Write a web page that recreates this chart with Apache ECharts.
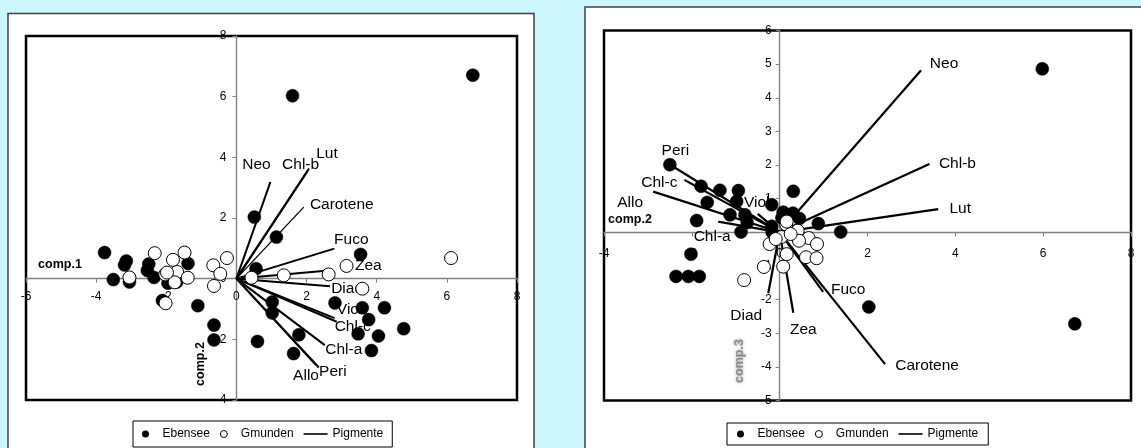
<!DOCTYPE html>
<html>
<head>
<meta charset="utf-8">
<script src="https://cdn.jsdelivr.net/npm/echarts@6/dist/echarts.min.js"></script>
<style>
  html, body { margin: 0; padding: 0; background: #cdf6fd; }
  #chart { width: 1141px; height: 448px; }
</style>
</head>
<body>
<div id="chart"></div>
<script>
// PCA biplots: sample scores (Ebensee / Gmunden) and pigment loadings

const pigments = ['Neo', 'Chl-b', 'Lut', 'Carotene', 'Fuco', 'Zea', 'Diad', 'Viol', 'Chl-c', 'Chl-a', 'Peri', 'Allo'];

// Panel 1: comp.1 vs comp.2
const leftEbensee = [
  [6.74, 6.71], [1.60, 6.03], [0.51, 2.03], [1.14, 1.37], [0.56, 0.33], [3.54, 0.80],
  [1.02, -0.77], [1.02, -1.13], [2.81, -0.80], [3.59, -0.96], [4.22, -0.96], [3.77, -1.35],
  [4.77, -1.65], [3.47, -1.82], [4.05, -1.89], [3.85, -2.37], [1.78, -1.85], [1.63, -2.47],
  [0.60, -2.07], [-0.64, -1.53], [-0.64, -2.02], [-1.10, -0.89], [-2.11, -0.72], [-3.76, 0.86],
  [-3.51, -0.03], [-3.19, 0.45], [-3.14, 0.58], [-3.05, -0.11], [-2.50, 0.48], [-2.54, 0.27],
  [-2.35, 0.04], [-1.38, 0.50], [-1.70, -0.11], [-1.95, -0.15]
];
const leftGmunden = [
  [-2.33, 0.84], [-1.81, 0.62], [-1.48, 0.86], [-2.03, 0.14], [-1.69, 0.22], [-1.39, 0.03],
  [-1.76, -0.12], [-3.05, 0.04], [-0.66, 0.44], [-0.46, 0.16], [-0.64, -0.24], [-0.27, 0.68],
  [-2.02, -0.81], [0.43, 0.03], [1.35, 0.11], [2.63, 0.14], [3.14, 0.42], [3.59, -0.33],
  [6.12, 0.68], [-1.98, 0.20]
];
const leftLoadings = [
  [0.97, 3.19], [2.03, 3.55], [2.07, 3.63], [1.92, 2.36], [2.79, 0.99], [2.62, 0.27],
  [2.67, -0.25], [2.80, -1.30], [2.86, -1.42], [2.52, -2.19], [2.35, -2.93], [2.27, -2.85]
];

// Panel 2: comp.2 vs comp.3
const rightEbensee = [
  [5.98, 4.86], [6.72, -2.72], [2.03, -2.22], [1.39, 0.01], [0.88, 0.26], [0.31, 1.22],
  [-2.50, 2.01], [-1.79, 1.37], [-1.36, 1.25], [-0.94, 1.24], [-1.65, 0.89], [-0.98, 0.92],
  [-1.13, 0.52], [-0.79, 0.52], [-0.74, 0.29], [-1.89, 0.35], [-0.88, 0.01], [-0.18, 0.82],
  [-2.02, -0.65], [-2.36, -1.31], [-2.08, -1.31], [-1.83, -1.31], [0.30, 0.57], [0.45, 0.41],
  [-0.18, 0.18], [0.05, 0.43], [-0.16, -0.02], [0.08, 0.60]
];
const rightGmunden = [
  [0.15, 0.23], [0.04, -0.14], [-0.23, -0.35], [0.16, -0.65], [0.08, -1.02], [-0.36, -1.03],
  [-0.81, -1.42], [0.41, 0.05], [0.66, -0.17], [0.44, -0.25], [0.85, -0.35], [0.60, -0.74],
  [0.84, -0.77], [-0.09, -0.20], [0.25, -0.05], [0.16, 0.32]
];
const rightLoadings = [
  [3.22, 4.82], [3.41, 2.03], [3.61, 0.69], [2.40, -3.92], [0.99, -1.77], [0.31, -2.39],
  [-0.26, -1.81], [-0.50, 0.55], [-2.17, 1.56], [-1.40, 0.32], [-2.42, 1.95], [-2.88, 1.21]
];

// label placement relative to each vector tip (pixels)
const leftLabelShift = [
  [-14, -17], [-7, -6], [18, -15], [38, -2], [17, -9], [40, -5],
  [17, 2], [15, -8], [16, 5], [19, 5], [14, 4], [-10, 11]
];
const rightLabelShift = [
  [23, -6], [28, 0], [22, 0], [42, 2], [25, -2], [10, 17],
  [-22, 23], [-1, -11], [-25, 3], [-6, 15], [2, -16], [-23, 11]
];
const leftLineWidth = [2, 2, 2, 1.3, 2, 2, 2, 2, 2, 2, 2, 2];

const FONT = '"Liberation Sans", Arial, sans-serif';

// grid boxes (pixels)
const gridL = { left: 26, top: 36, width: 491, height: 364 };
const gridR = { left: 604, top: 30.5, width: 527, height: 370 };

function vectorSeries(gridIdx, loadings, shifts, widths) {
  return {
    type: 'custom',
    name: 'Pigmente',
    xAxisIndex: gridIdx,
    yAxisIndex: gridIdx,
    z: 2,
    data: loadings,
    encode: { x: 0, y: 1 },
    renderItem: function (params, api) {
      const i = params.dataIndex;
      const o = api.coord([0, 0]);
      const p = api.coord([api.value(0), api.value(1)]);
      const s = shifts[i];
      return {
        type: 'group',
        children: [
          {
            type: 'line',
            shape: { x1: o[0], y1: o[1], x2: p[0], y2: p[1] },
            style: { stroke: '#000', lineWidth: widths ? widths[i] : 2.2 }
          },
          {
            type: 'text',
            style: {
              text: pigments[i], x: p[0] + s[0], y: p[1] + s[1],
              fill: '#000', fontSize: 15.5, fontFamily: FONT,
              align: 'center', verticalAlign: 'middle'
            }
          }
        ]
      };
    }
  };
}

function scoreSeries(gridIdx, name, data, filled) {
  return {
    type: 'scatter',
    name: name,
    xAxisIndex: gridIdx,
    yAxisIndex: gridIdx,
    z: 3,
    symbol: 'circle',
    symbolSize: 13,
    data: data,
    itemStyle: filled
      ? { color: '#000', borderColor: '#000', borderWidth: 0.5, opacity: 1 }
      : { color: '#fff', borderColor: '#000', borderWidth: 1, opacity: 1 }
  };
}

// axis drawn through the other axis' zero, shifted in from the grid edge
function crossAxis(gridIdx, min, max, interval, margin, otherMin, otherMax, span) {
  const shift = -((0 - otherMin) / (otherMax - otherMin)) * span;
  return {
    type: 'value', gridIndex: gridIdx, min: min, max: max, interval: interval,
    offset: shift,
    axisLine: { show: true, onZero: false, lineStyle: { color: '#808080', width: 1.4 } },
    axisTick: { show: true, length: 4, lineStyle: { color: '#808080', width: 1 } },
    axisLabel: { color: '#000', fontSize: 12, fontFamily: FONT, margin: margin },
    splitLine: { show: false }
  };
}

function legendFor(left, top, pad) {
  return {
    left: left, top: top,
    orient: 'horizontal',
    backgroundColor: '#fff',
    borderColor: '#000', borderWidth: 1,
    padding: pad,
    itemWidth: 24, itemHeight: 7, itemGap: 10,
    symbolKeepAspect: true,
    textStyle: { color: '#000', fontSize: 12, fontFamily: FONT },
    data: [
      { name: 'Ebensee', icon: 'circle', itemStyle: { color: '#000', borderWidth: 0 } },
      { name: 'Gmunden', icon: 'circle', itemStyle: { color: '#fff', borderColor: '#000', borderWidth: 1 } },
      { name: 'Pigmente', icon: 'path://M0,0L30,0L30,2L0,2Z', itemStyle: { color: '#000' } }
    ]
  };
}

const chart = echarts.init(document.getElementById('chart'), null, { renderer: 'canvas' });

chart.setOption({
  backgroundColor: '#cdf6fd',
  animation: false,
  graphic: [
    { type: 'rect', z: -10, shape: { x: 8, y: 13.5, width: 526, height: 450 },
      style: { fill: '#fff', stroke: '#404040', lineWidth: 1.5 } },
    { type: 'rect', z: -10, shape: { x: 585, y: 7, width: 600, height: 460 },
      style: { fill: '#fff', stroke: '#404040', lineWidth: 1.5 } },
    { type: 'text', z: 10, x: 60, y: 265,
      style: { text: 'comp.1', fontSize: 12.5, fontWeight: 'bold', fontFamily: FONT, fill: '#000', align: 'center', verticalAlign: 'middle' } },
    { type: 'text', z: 10, x: 201, y: 364, rotation: Math.PI / 2,
      style: { text: 'comp.2', fontSize: 12.5, fontWeight: 'bold', fontFamily: FONT, fill: '#000', align: 'center', verticalAlign: 'middle' } },
    { type: 'text', z: 10, x: 630, y: 220,
      style: { text: 'comp.2', fontSize: 12.5, fontWeight: 'bold', fontFamily: FONT, fill: '#000', align: 'center', verticalAlign: 'middle' } },
    { type: 'text', z: 10, x: 740, y: 361, rotation: Math.PI / 2,
      style: { text: 'comp.3', fontSize: 12.5, fontWeight: 'bold', fontFamily: FONT, fill: '#8c8c8c',
               textShadowColor: 'rgba(120,120,120,0.8)', textShadowBlur: 3,
               align: 'center', verticalAlign: 'middle' } }
  ],
  grid: [
    Object.assign({ show: true, backgroundColor: '#fff', borderColor: '#000', borderWidth: 2.5 }, gridL),
    Object.assign({ show: true, backgroundColor: '#fff', borderColor: '#000', borderWidth: 2.5 }, gridR)
  ],
  xAxis: [
    crossAxis(0, -6, 8, 2, 12, -4, 8, gridL.height),
    crossAxis(1, -4, 8, 2, 15, -5, 6, gridR.height)
  ],
  yAxis: [
    crossAxis(0, -4, 8, 2, 10, -6, 8, gridL.width),
    crossAxis(1, -5, 6, 1, 8, -4, 8, gridR.width)
  ],
  legend: [
    legendFor(133, 421, [7, 9]),
    legendFor(727, 423, [5, 10])
  ],
  series: [
    vectorSeries(0, leftLoadings, leftLabelShift, leftLineWidth),
    scoreSeries(0, 'Ebensee', leftEbensee, true),
    scoreSeries(0, 'Gmunden', leftGmunden, false),
    vectorSeries(1, rightLoadings, rightLabelShift, null),
    scoreSeries(1, 'Ebensee', rightEbensee, true),
    scoreSeries(1, 'Gmunden', rightGmunden, false)
  ]
});
</script>
</body>
</html>
